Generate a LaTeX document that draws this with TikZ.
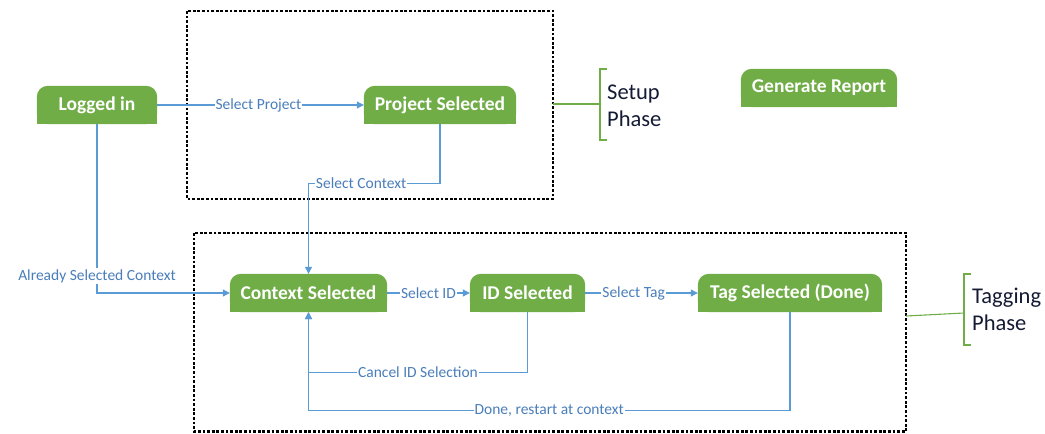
\documentclass[tikz,border=0pt]{standalone}
\usepackage{fontspec}
\setmainfont{Carlito}
\usetikzlibrary{arrows.meta,backgrounds}
\definecolor{stgreen}{HTML}{70AD47}
\definecolor{lnblue}{HTML}{5B9BD5}
\definecolor{lbblue}{HTML}{4A7EBB}
\definecolor{phtext}{HTML}{141A33}
\tikzset{
  state/.style={text=white, font=\fontsize{19.5}{21}\selectfont\bfseries, minimum height=38pt, inner sep=0pt},
  conn/.style={draw=lnblue, line width=1.1pt, -{Triangle[length=7pt,width=7pt]}},
  lbl/.style={fill=white, text=lbblue, font=\fontsize{15.5}{17}\selectfont, inner sep=1pt},
  phasebox/.style={draw=black, line width=2.3pt, dash pattern=on 2.8pt off 1.8pt},
  brace/.style={draw=stgreen, line width=1.1pt},
  phasetxt/.style={text=phtext, font=\fontsize{22.5}{27}\selectfont, align=left, anchor=west, inner sep=0pt}
}
\begin{document}
\begin{tikzpicture}[x=1pt, y=-1pt]
      \useasboundingbox (0,0) rectangle (1045,434);

      % Phase boxes
      \draw[phasebox] (187,11) rectangle (553,199);
      \draw[phasebox] (194,233) rectangle (906,431.5);

      % States
      \node[state, minimum width=120pt] at (97,105) (login) {Logged in};
      \node[state, minimum width=152pt] at (440,105) (project) {Project Selected};
      \node[state, minimum width=156pt] at (819,88) (report) {Generate Report};
      \node[state, minimum width=157pt] at (308.5,293) (context) {Context Selected};
      \node[state, minimum width=115pt] at (527.5,293) (idsel) {ID Selected};
      \node[state, minimum width=184pt] at (790,293) (tagsel) {Tag Selected (Done)};

      % green shapes, rounded on top only
      \begin{scope}[on background layer]
        \foreach \n in {login,project,report,context,idsel,tagsel} {
          \fill[stgreen, rounded corners=11pt] (\n.south west) rectangle (\n.north east);
          \fill[stgreen] (\n.west) rectangle (\n.south east);
        }
      \end{scope}

      % Transitions
      \draw[conn] (login) -- node[lbl, pos=0.49] {Select Project} (project);
      \draw[conn] (project.south) -- ++(0,59) -| node[lbl, pos=0.3] {Select Context} (context.north);
      \draw[conn] (login.south) |- node[lbl, pos=0.45] {Already Selected Context} (context.west);
      \draw[conn] (context) -- node[lbl, pos=0.5] {Select ID} (idsel);
      \draw[conn] (idsel) -- node[lbl, pos=0.43] {Select Tag} (tagsel);
      \draw[conn] (idsel.south) -- ++(0,60) -| node[lbl, pos=0.25] {Cancel ID Selection} (context.south);
      \draw[conn] (tagsel.south) -- ++(0,98) -| node[lbl, pos=0.25] {Done, restart at context} (context.south);

      % Phase labels
      \coordinate (setupend) at (553,104);
      \coordinate (setuptip) at (600,104);
      \draw[brace] (setupend) -- (setuptip);
      \draw[brace] (607,69) -- (600,69) -- (600,140) -- (607,140);
      \node[phasetxt] at (607,106) (setup) {Setup\\Phase};

      \coordinate (tagend) at (906,316);
      \coordinate (tagtip) at (964,313);
      \draw[brace] (tagend) -- (tagtip);
      \draw[brace] (971,274) -- (964,274) -- (964,345) -- (971,345);
      \node[phasetxt] at (972,309) (tagging) {Tagging\\Phase};
\end{tikzpicture}
\end{document}
